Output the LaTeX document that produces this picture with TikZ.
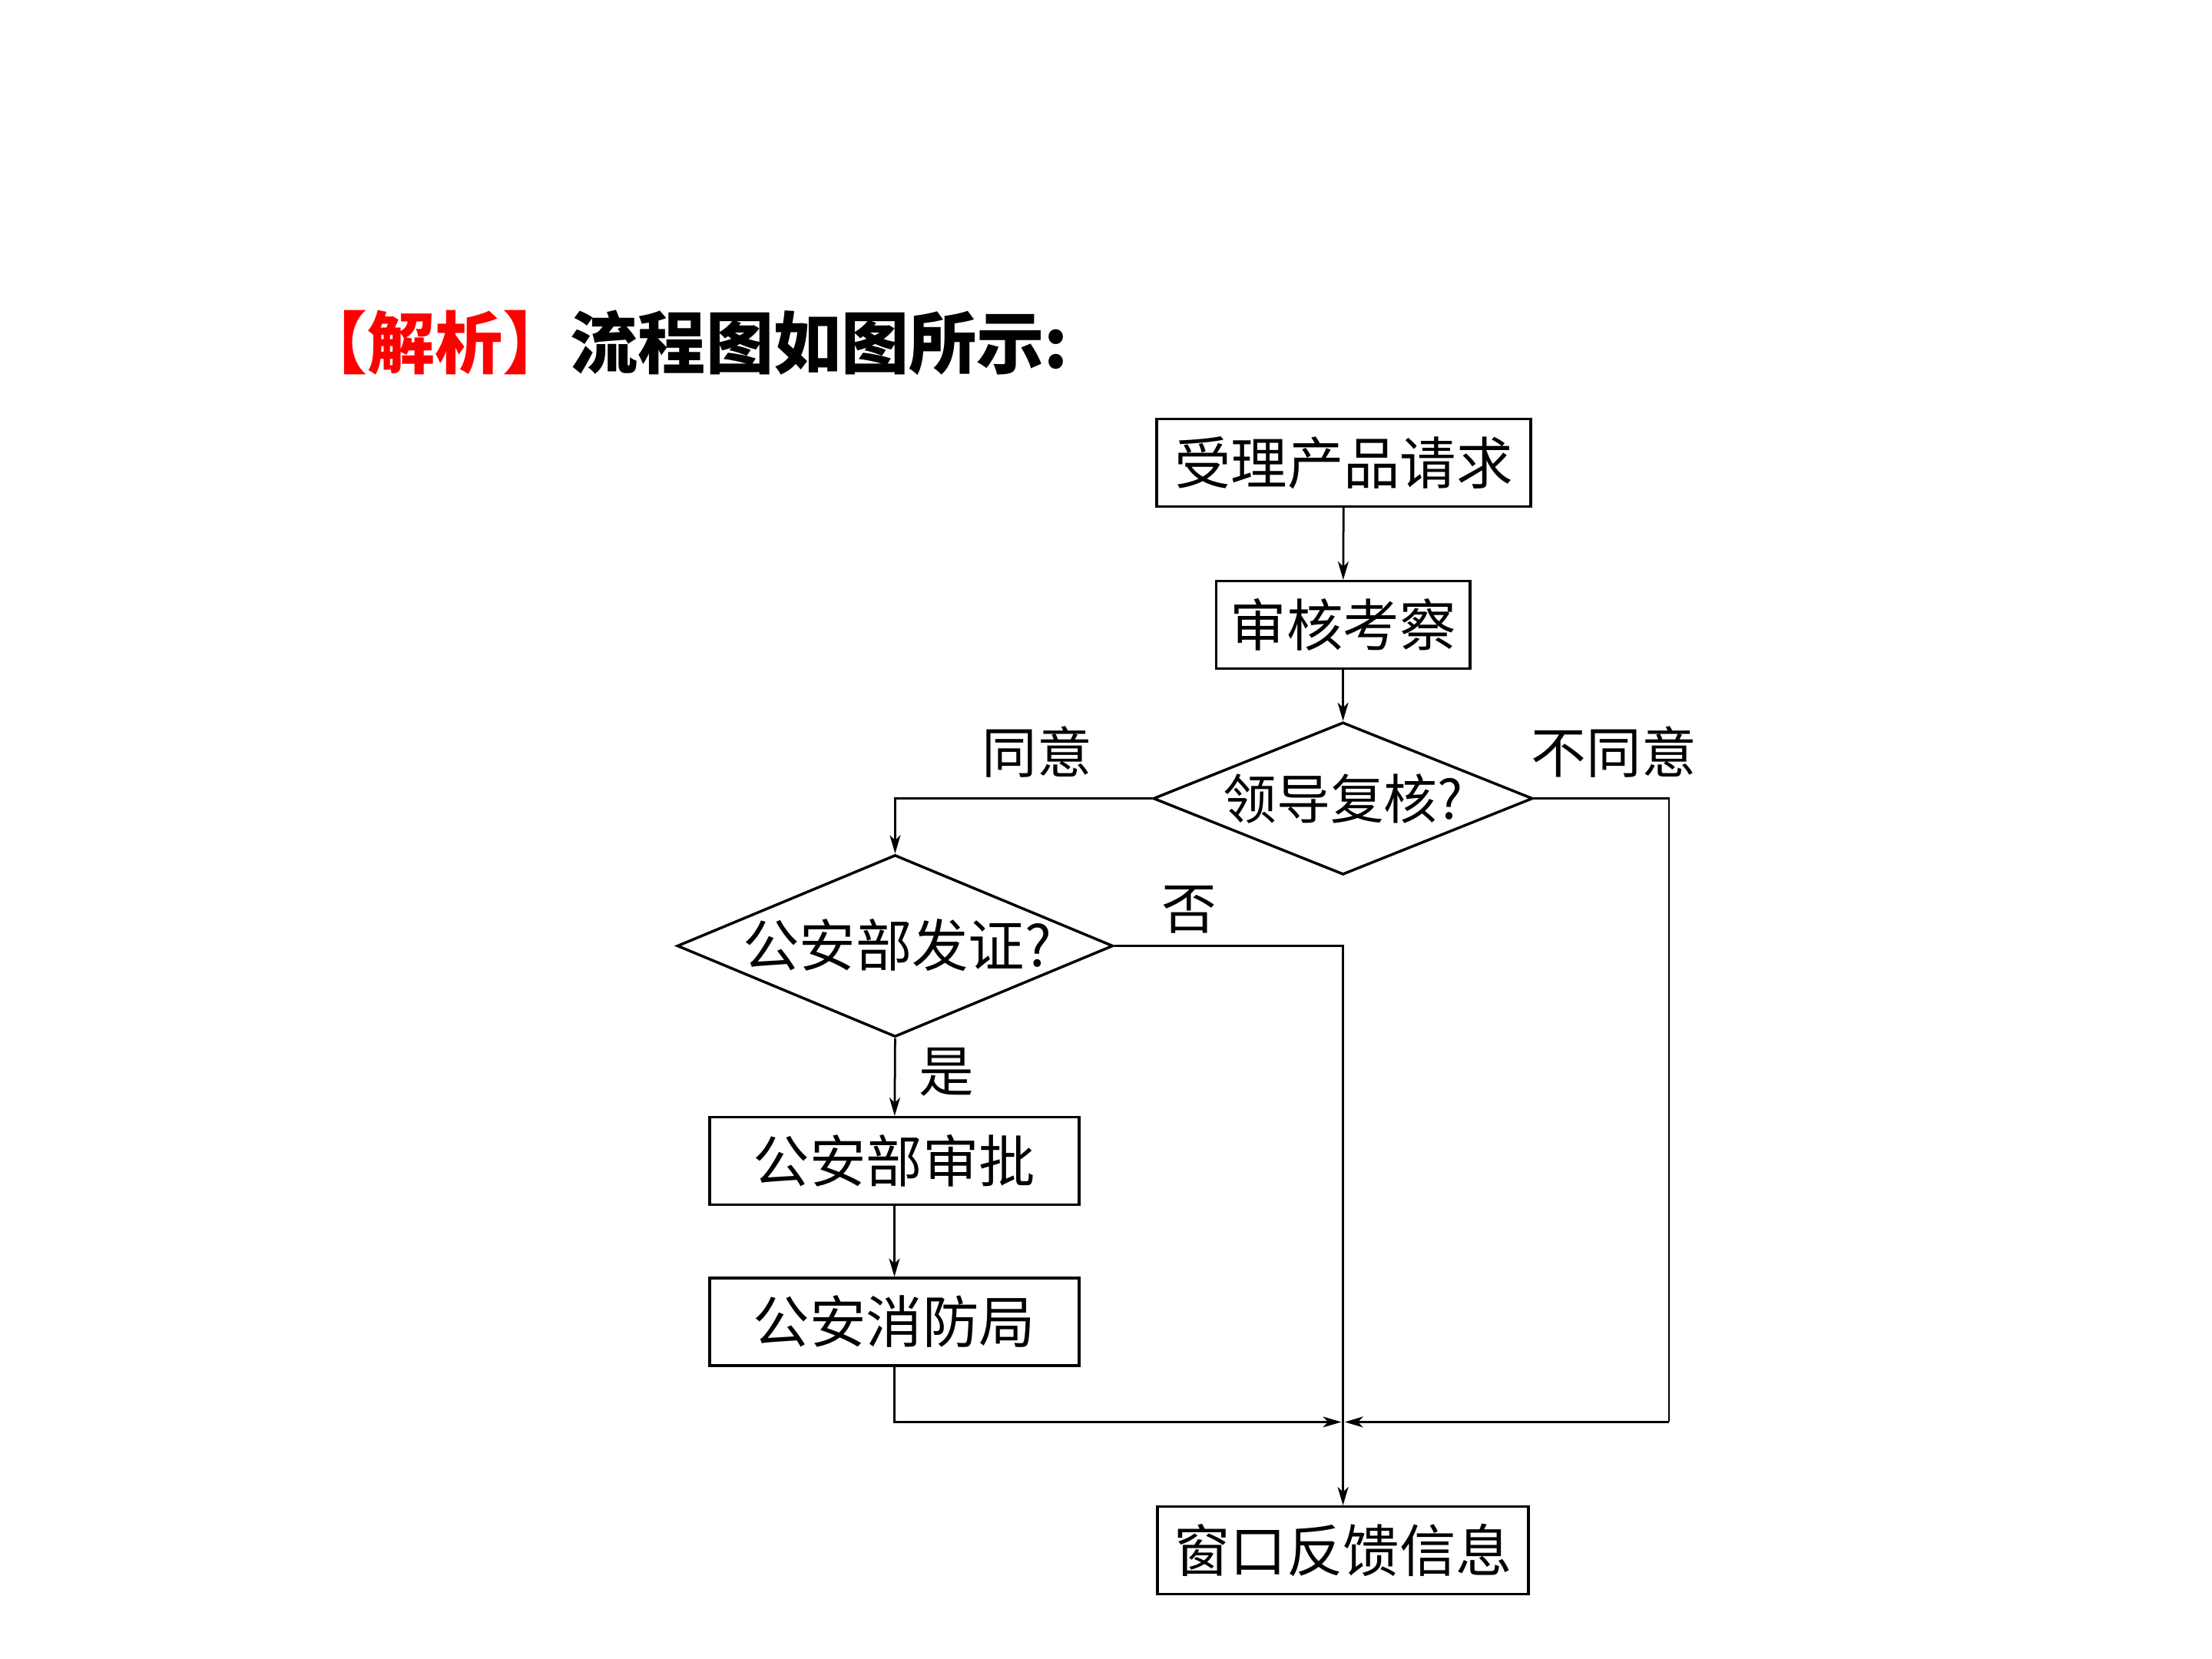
\documentclass[tikz,border=0pt]{standalone}
\usepackage{fontspec}
\setmainfont{Noto Sans CJK SC}
\usetikzlibrary{shapes.geometric,arrows.meta}
\begin{document}
\begin{tikzpicture}[x=0.5pt,y=-0.5pt,
  box/.style={draw,line width=0.95pt,inner sep=0pt,font=\fontsize{20pt}{24pt}\selectfont},
  dia/.style={draw,diamond,line width=0.95pt,inner sep=0pt},
  dtext/.style={inner sep=0pt,font=\fontsize{19pt}{22pt}\selectfont},
  lab/.style={inner sep=0pt,font=\fontsize{19.5pt}{22pt}\selectfont},
  conn/.style={line width=0.75pt},
  arr/.style={conn,-{Stealth[length=6.5pt,width=3.8pt,inset=1.8pt]}}]
\useasboundingbox (0,0) rectangle (1568,1176);
\fill[white] (0,0) rectangle (1568,1176);
% title
\node[anchor=west,inner sep=0pt,font=\fontsize{24pt}{27pt}\selectfont\bfseries] (title) at (212,243)
  {\textcolor{red}{【解析】}流程图如图所示:};
% boxes
\node[box,minimum width=132.5pt,minimum height=31pt] (b1) at (952.5,328) {受理产品请求};
\node[box,minimum width=90pt,minimum height=31pt] (b2) at (952,443) {审核考察};
\node[dia,minimum width=134.5pt,minimum height=54pt] (d1) at (952,566) {};
\node[dtext] (d1t) at (952,566) {领导复核?};
\node[dia,minimum width=154.5pt,minimum height=64.5pt] (d2) at (634.5,670.5) {};
\node[dtext,font=\fontsize{20pt}{22pt}\selectfont] (d2t) at (636,670) {公安部发证?};
\node[box,minimum width=131pt,minimum height=31pt] (b3) at (634,823) {公安部审批};
\node[box,minimum width=131pt,minimum height=31pt] (b4) at (634,937) {公安消防局};
\node[box,minimum width=131.5pt,minimum height=31pt] (b5) at (952,1099) {窗口反馈信息};
\coordinate (j) at (952,1008);
\coordinate (rc) at (1183,1008);
% labels
\node[lab] (l1) at (735,533) {同意};
\node[lab] (l2) at (1144,533) {不同意};
\node[lab] (l3) at (843,645) {否};
\node[lab] (l4) at (671,760) {是};
% connectors
\draw[arr] (b1) -- (b2);
\draw[arr] (b2) -- (d1);
\draw[arr] (d1.west) -| (d2.north);
\draw[arr] (d2.south) -- (b3);
\draw[arr] (b3) -- (b4);
\draw[arr] (d2.east) -| (b5.north);
\draw[arr,shorten >=0.6pt] (b4.south) |- (j);
\draw[conn] (d1.east) -| (rc);
\draw[arr,shorten >=0.6pt] (rc) -- (j);
\end{tikzpicture}
\end{document}
